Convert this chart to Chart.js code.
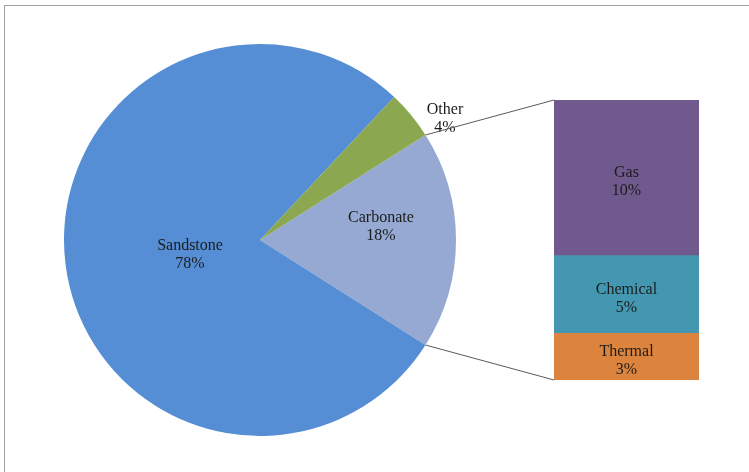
<!DOCTYPE html>
<html>
<head>
<meta charset="utf-8">
<script src="https://cdn.jsdelivr.net/npm/chart.js@4"></script>
<style>
  html, body { margin: 0; padding: 0; background: #ffffff; }
  #wrap { position: relative; width: 749px; height: 472px; overflow: hidden; }
  #frame { position: absolute; left: 4px; top: 5px; width: 760px; height: 480px;
           border-top: 1px solid #a0a0a0; border-left: 1px solid #a0a0a0; }
  canvas { position: absolute; left: 0; top: 0; }
</style>
</head>
<body>
<div id="wrap">
  <div id="frame"></div>
  <canvas id="pie" width="749" height="472"></canvas>
  <canvas id="bar" width="749" height="472"></canvas>
</div>
<script>
// Main pie: rock types (percent of total), clockwise from the split-out slice
const pieLabels = ['Carbonate', 'Sandstone', 'Other'];
const pieValues = [18, 78, 4];
const pieColors = ['#95a9d2', '#558ed5', '#8ba74f'];

// Breakdown of the Carbonate slice, stacked bottom to top
const barLabels = ['Thermal', 'Chemical', 'Gas'];
const barValues = [3, 5, 10];
const barColors = ['#dc843d', '#4397b0', '#70598d'];

const FONT = '16px "Liberation Serif", "Times New Roman", serif';
const TEXT = '#1c1c1c';

function drawPair(ctx, name, pct, x, y) {
  ctx.save();
  ctx.font = FONT;
  ctx.fillStyle = TEXT;
  ctx.textAlign = 'center';
  ctx.textBaseline = 'middle';
  ctx.fillText(name, x, y - 9);
  ctx.fillText(pct + '%', x, y + 9);
  ctx.restore();
}

// Label offsets from the pie centre, in units of the radius
const pieLabelOffsets = { Sandstone: [-0.357, 0.076], Carbonate: [0.617, -0.067], Other: [0.944, -0.618] };

const pieLabelPlugin = {
  id: 'pieLabels',
  afterDatasetsDraw(chart) {
    const ctx = chart.ctx;
    const arcs = chart.getDatasetMeta(0).data;
    arcs.forEach((arc, i) => {
      const name = pieLabels[i];
      const off = pieLabelOffsets[name];
      const x = arc.x + off[0] * arc.outerRadius;
      const y = arc.y + off[1] * arc.outerRadius;
      drawPair(ctx, name, pieValues[i], x, y);
    });
  }
};

const pieChart = new Chart(document.getElementById('pie'), {
  type: 'pie',
  data: {
    labels: pieLabels,
    datasets: [{ data: pieValues, backgroundColor: pieColors, borderWidth: 0 }]
  },
  options: {
    responsive: false,
    animation: false,
    devicePixelRatio: 1,
    rotation: 90 - (pieValues[0] / 100) * 180,
    layout: { padding: { left: 64, right: 293, top: 44, bottom: 36 } },
    plugins: { legend: { display: false }, tooltip: { enabled: false } }
  },
  plugins: [pieLabelPlugin]
});

// Connector lines from the split slice to the stacked bar, plus bar labels
const barPlugin = {
  id: 'barExtras',
  beforeDatasetsDraw(chart) {
    const ctx = chart.ctx;
    const arc = pieChart.getDatasetMeta(0).data[0];
    const top = chart.getDatasetMeta(barValues.length - 1).data[0];
    const bottom = chart.getDatasetMeta(0).data[0];
    const left = top.x - top.width / 2;
    const p1 = [arc.x + arc.outerRadius * Math.cos(arc.startAngle), arc.y + arc.outerRadius * Math.sin(arc.startAngle)];
    const p2 = [arc.x + arc.outerRadius * Math.cos(arc.endAngle), arc.y + arc.outerRadius * Math.sin(arc.endAngle)];
    ctx.save();
    ctx.strokeStyle = '#5a5a5a';
    ctx.lineWidth = 1;
    ctx.beginPath();
    ctx.moveTo(p1[0], p1[1]);
    ctx.lineTo(left, top.y);
    ctx.moveTo(p2[0], p2[1]);
    ctx.lineTo(left, bottom.base);
    ctx.stroke();
    ctx.restore();
  },
  afterDatasetsDraw(chart) {
    const ctx = chart.ctx;
    barValues.forEach((v, i) => {
      const el = chart.getDatasetMeta(i).data[0];
      drawPair(ctx, barLabels[i], v, el.x, (el.y + el.base) / 2 + 4);
    });
  }
};

new Chart(document.getElementById('bar'), {
  type: 'bar',
  data: {
    labels: ['Carbonate'],
    datasets: barLabels.map((name, i) => ({
      label: name,
      data: [barValues[i]],
      backgroundColor: barColors[i],
      borderWidth: 0,
      barPercentage: 1,
      categoryPercentage: 1
    }))
  },
  options: {
    responsive: false,
    animation: false,
    devicePixelRatio: 1,
    layout: { padding: { left: 554, right: 50, top: 100, bottom: 92 } },
    scales: {
      x: { stacked: true, display: false },
      y: { stacked: true, display: false, min: 0, max: 18 }
    },
    plugins: { legend: { display: false }, tooltip: { enabled: false } }
  },
  plugins: [barPlugin]
});
</script>
</body>
</html>
